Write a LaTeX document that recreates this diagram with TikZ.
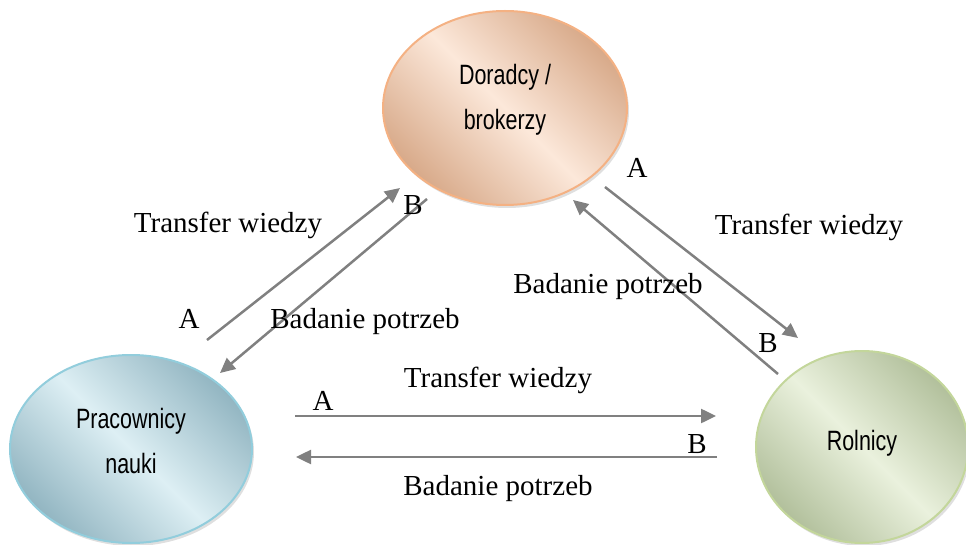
\documentclass[tikz,border=0pt]{standalone}
\usepackage{fontspec}
\setmainfont{Liberation Serif}
\newfontfamily\arialf{Liberation Sans}
\usetikzlibrary{arrows.meta,shadows,shapes.geometric}
\definecolor{arrgray}{HTML}{808080}
\definecolor{dorDark}{HTML}{D8AA8A}
\definecolor{dorLight}{HTML}{FCE8DA}
\definecolor{dorEdge}{HTML}{F4B183}
\definecolor{praDark}{HTML}{93B6C2}
\definecolor{praLight}{HTML}{DDEFF4}
\definecolor{praEdge}{HTML}{92CDDC}
\definecolor{rolDark}{HTML}{B2C09C}
\definecolor{rolLight}{HTML}{EAF1DD}
\definecolor{rolEdge}{HTML}{C3D69B}
\newcommand{\tall}[1]{\scalebox{1}[1.3]{#1}}
\begin{document}
\begin{tikzpicture}[x=1pt,y=-1pt,
  blob/.style={ellipse, inner sep=0pt, line width=2pt,
    font=\arialf\fontsize{21.5}{45}\selectfont,
    drop shadow={opacity=0.25, shadow xshift=2pt, shadow yshift=-3pt}},
  dorfill/.style={top color=dorDark, bottom color=dorDark, middle color=dorLight, shading angle=-45},
  prafill/.style={top color=praDark, bottom color=praDark, middle color=praLight, shading angle=-45},
  rolfill/.style={top color=rolDark, bottom color=rolDark, middle color=rolLight, shading angle=-45},
  flow/.style={draw=arrgray, line width=2.5pt,
    -{Triangle[length=15pt,width=14pt]}},
  lbl/.style={anchor=base, inner sep=0pt, font=\fontsize{29}{34}\selectfont}]
\useasboundingbox (0,0) rectangle (966,545);

% ellipses (text: last baseline placed at node centre minus the raise)
\node[blob, draw=dorEdge, dorfill,
  minimum width=244pt, minimum height=194pt] (dor) at (505,108)
  {\raisebox{-22pt}[0pt][0pt]{\begin{tabular}[b]{@{}c@{}}\tall{Doradcy /}\\\tall{brokerzy}\end{tabular}}};
\node[blob, draw=praEdge, prafill,
  minimum width=242pt, minimum height=188pt] (pra) at (131,449)
  {\raisebox{-24pt}[0pt][0pt]{\begin{tabular}[b]{@{}c@{}}\tall{Pracownicy}\\\tall{nauki}\end{tabular}}};
\node[blob, draw=rolEdge, rolfill,
  minimum width=212pt, minimum height=192pt] (rol) at (862,447)
  {\raisebox{-3pt}[0pt][0pt]{\tall{Rolnicy}}};

% arrow end points
\coordinate (p1s) at (207,340); \coordinate (d1e) at (400,188);
\coordinate (d2s) at (427,199); \coordinate (p2e) at (220,373);
\coordinate (d3s) at (605,187); \coordinate (r3e) at (798,338);
\coordinate (r4s) at (778,374); \coordinate (d4e) at (573,200);
\coordinate (p5s) at (295,416); \coordinate (r5e) at (716,416);
\coordinate (r6s) at (717,457); \coordinate (p6e) at (296,457);

\draw[flow] (p1s) -- (d1e);
\draw[flow] (d2s) -- (p2e);
\draw[flow] (d3s) -- (r3e);
\draw[flow] (r4s) -- (d4e);
\draw[flow] (p5s) -- (r5e);
\draw[flow] (r6s) -- (p6e);

% labels
\node[lbl] (tw1) at (228,233) {Transfer wiedzy};
\node[lbl] (a1) at (189,328) {A};
\node[lbl] (bp1) at (365,328) {Badanie potrzeb};
\node[lbl] (b1) at (413,215) {B};

\node[lbl] (a2) at (637,178) {A};
\node[lbl] (tw2) at (809,235) {Transfer wiedzy};
\node[lbl] (bp2) at (608,294) {Badanie potrzeb};
\node[lbl] (b2) at (768,352) {B};

\node[lbl] (tw3) at (498,387) {Transfer wiedzy};
\node[lbl] (a3) at (323,410) {A};
\node[lbl] (b3) at (697,453) {B};
\node[lbl] (bp3) at (498,495) {Badanie potrzeb};
\end{tikzpicture}
\end{document}
